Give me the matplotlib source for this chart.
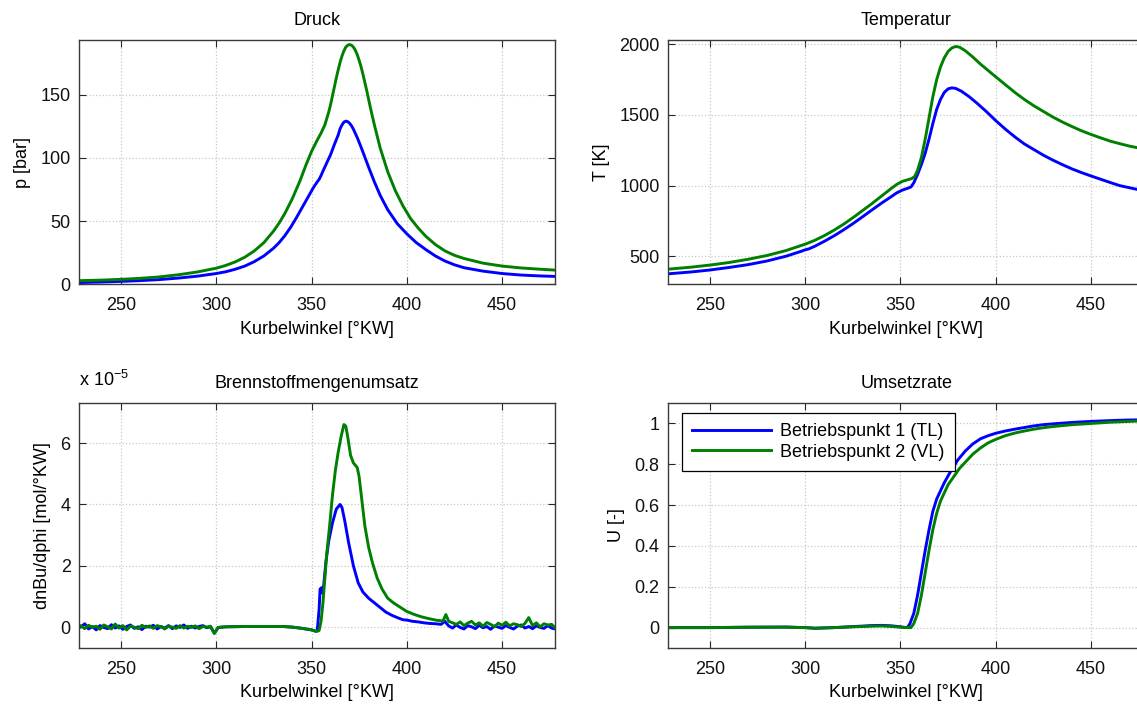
import numpy as np
import matplotlib
matplotlib.use("Agg")
import matplotlib.pyplot as plt
from matplotlib.ticker import FuncFormatter

plt.rcParams['font.family'] = ['Liberation Sans', 'DejaVu Sans']
plt.rcParams['font.size'] = 13

BLAU = '#0000ff'
GRUEN = '#008000'
labels = ['Betriebspunkt 1 (TL)', 'Betriebspunkt 2 (VL)']

# Druck [bar]
phi_p1 = [229, 240, 250, 260, 270, 280, 290, 300, 305, 310, 315, 320, 325, 330, 333, 336, 339, 342,
          345, 348, 351, 353, 354, 355, 356, 358, 360, 362, 364, 365, 366, 367, 368, 369, 370, 371,
          372, 374, 376, 378, 380, 383, 386, 390, 395, 400, 405, 410, 415, 420, 425, 430, 440, 450,
          460, 470, 478]
p1 = [1.5, 1.9, 2.4, 3.0, 3.8, 5.0, 6.5, 8.6, 10, 12, 14.5, 18, 22.5, 28.5, 33, 38.5, 45, 52.5,
      60.5, 68.5, 76.5, 81, 83, 86, 89.5, 96, 102.5, 110.5, 118, 123, 126, 128.2, 129, 128.6, 127.3, 125.3,
      122.6, 116, 108.5, 100.5, 92.5, 81, 70.5, 59, 48, 40, 33, 27.5, 22.5, 18.5, 15.5, 13.2, 10.5, 8.6,
      7.4, 6.7, 6.3]
phi_p2 = [229, 240, 250, 260, 270, 280, 290, 300, 305, 310, 315, 320, 325, 330, 333, 336, 340, 344,
          347, 350, 353, 355, 357, 359, 360, 361, 362, 363, 364, 365, 366, 367, 368, 369, 370, 371,
          372, 373, 374, 375, 376, 377, 378, 379, 380, 381, 383, 386, 390, 394, 398, 402, 406, 410,
          415, 420, 425, 430, 440, 450, 460, 470, 478]
p2 = [3.0, 3.4, 4.0, 4.8, 5.9, 7.6, 9.8, 12.8, 15.0, 17.8, 21.5, 26.5, 33, 42, 48.5, 56, 68, 82,
      94, 105, 114, 119.5, 126, 136, 142, 149, 156, 163, 169.5, 175.5, 180.5, 184.5, 187.5, 189, 189.5, 189,
      187.5, 185, 181.5, 177, 172, 166, 159.5, 153, 146, 139, 126, 108, 89, 74, 62, 52, 44.5, 38,
      31.5, 26.5, 23, 20.5, 16.8, 14.5, 13, 12, 11.3]

# Temperatur [K]
phi_T1 = [229, 240, 250, 260, 270, 280, 290, 298, 300, 302, 305, 310, 315, 320, 325, 330, 335, 340,
          345, 348, 351, 354, 355.5, 357, 359, 361, 363, 365, 367, 369, 371, 373, 375, 377, 379, 382,
          386, 390, 395, 400, 405, 410, 415, 420, 425, 430, 435, 440, 445, 450, 455, 460, 465, 470, 478]
T1 = [376, 388, 402, 420, 440, 466, 500, 535, 545, 552, 570, 605, 643, 685, 730, 778, 827, 875,
      920, 948, 968, 982, 990, 1020, 1080, 1150, 1230, 1330, 1440, 1540, 1610, 1660, 1685, 1692, 1688, 1668,
      1630, 1585, 1525, 1460, 1400, 1345, 1295, 1255, 1215, 1180, 1148, 1118, 1092, 1068, 1045, 1022, 1000, 985, 962]
phi_T2 = [229, 240, 250, 260, 270, 280, 290, 300, 305, 310, 315, 320, 325, 330, 335, 340, 345, 348,
          351, 354, 356, 357.5, 359, 361, 363, 365, 367, 369, 371, 373, 375, 377, 379, 381, 384, 388,
          392, 396, 400, 405, 410, 415, 420, 425, 430, 435, 440, 445, 450, 455, 460, 465, 470, 478]
T2 = [409, 422, 437, 455, 478, 505, 540, 585, 612, 645, 683, 725, 772, 822, 872, 925, 978, 1008,
      1030, 1042, 1050, 1065, 1110, 1200, 1330, 1480, 1630, 1750, 1840, 1905, 1950, 1975, 1985, 1980, 1955, 1910,
      1860, 1815, 1770, 1715, 1660, 1610, 1565, 1525, 1485, 1450, 1418, 1388, 1362, 1338, 1315, 1297, 1280, 1258]

# Brennstoffmengenumsatz [1e-5 mol/°KW]
phi_b1 = list(range(229, 298, 2)) + [299, 300, 301, 305, 315, 325, 335, 340, 345, 350, 352, 353,
          354, 354.5, 355.5, 356, 357.5, 359, 361, 363, 365, 366, 367.5, 369.5, 372, 374.5, 377, 380,
          383, 386, 389, 392, 395, 398, 400, 403, 406, 409, 412, 415, 418, 420, 421] + list(range(422, 479, 2))
b1 = [0.02, 0.12, -0.05, 0.03, -0.08, 0.06, 0.0, -0.04, 0.09, -0.02, 0.05, -0.06, 0.03, 0.08, -0.03,
      0.02, -0.07, 0.04, 0.01, 0.07, -0.05, 0.03, -0.02, 0.06, -0.04, 0.05, 0.0, 0.08, -0.03, 0.04,
      -0.02, 0.03, 0.06, -0.01, 0.02,
      -0.18, -0.1, 0.0, 0.02, 0.03, 0.03, 0.03, 0.01, -0.03, -0.08, -0.12, -0.12,
      0.6, 1.25, 1.3, 1.1, 2.1, 2.8, 3.4, 3.85, 4.0, 3.9, 3.45, 2.75, 2.0, 1.45, 1.15, 0.95,
      0.8, 0.65, 0.5, 0.4, 0.32, 0.25, 0.24, 0.2, 0.18, 0.15, 0.13, 0.12, 0.1, 0.2, 0.12,
      0.05, -0.02, 0.08, 0.0, -0.05, 0.06, 0.02, -0.04, 0.07, -0.01, 0.03, -0.06, 0.05, 0.01, -0.03,
      0.06, 0.0, -0.05, 0.04, 0.08, -0.02, 0.03, -0.04, 0.05, 0.0, -0.03, 0.06, -0.02, -0.05]
phi_b2 = list(range(229, 298, 2)) + [299, 300, 301, 305, 315, 325, 335, 340, 345, 350, 352, 353,
          354, 355, 356, 357, 358, 359.5, 361, 362.5, 364, 365.5, 367, 368, 369, 370.5, 372, 374, 375,
          376.5, 378, 380, 382, 384.5, 387, 390, 393, 396, 400, 404, 408, 412, 416, 419, 420.5, 422] + list(range(424, 479, 2))
b2 = [0.05, -0.04, 0.07, 0.0, 0.04, -0.06, 0.08, 0.02, -0.05, 0.11, -0.02, 0.06, -0.08, 0.04, 0.01,
      -0.04, 0.07, 0.0, 0.05, -0.03, 0.06, 0.02, -0.05, 0.04, 0.01, -0.03, 0.06, -0.02, 0.04, 0.0,
      0.05, -0.04, 0.03, 0.01, 0.04,
      -0.2, -0.1, 0.0, 0.02, 0.03, 0.03, 0.03, 0.01, -0.03, -0.08, -0.12, -0.12,
      -0.1, 0.2, 0.8, 1.6, 2.4, 3.3, 4.3, 5.1, 5.7, 6.2, 6.6, 6.55, 6.2, 5.6, 5.35, 5.2, 4.9,
      4.1, 3.3, 2.6, 2.1, 1.6, 1.25, 0.95, 0.8, 0.68, 0.52, 0.42, 0.34, 0.28, 0.23, 0.21, 0.42, 0.2,
      0.15, 0.1, 0.18, 0.06, 0.14, 0.2, 0.08, 0.15, 0.04, 0.16, 0.1, 0.02, 0.14, 0.07, 0.17,
      0.05, 0.12, 0.09, 0.03, 0.13, 0.32, 0.06, 0.15, 0.02, 0.12, 0.08, 0.1, -0.02]

# Umsetzrate [-]
phi_u1 = [229, 250, 270, 290, 300, 305, 315, 325, 335, 340, 345, 350, 353, 354, 355, 357, 359, 361,
          363, 365, 367, 369, 371, 373, 376, 380, 384, 388, 392, 396, 400, 405, 410, 415, 420, 425,
          430, 440, 450, 460, 470, 478]
u1 = [0.0, 0.0, 0.002, 0.003, 0.0, -0.003, 0.0, 0.005, 0.01, 0.011, 0.009, 0.004, 0.0, 0.005, 0.02,
      0.07, 0.16, 0.27, 0.38, 0.48, 0.57, 0.63, 0.67, 0.71, 0.76, 0.82, 0.865, 0.9, 0.925, 0.94,
      0.952, 0.963, 0.972, 0.98, 0.988, 0.994, 0.998, 1.005, 1.01, 1.014, 1.017, 1.018]
phi_u2 = [229, 250, 270, 290, 300, 305, 315, 325, 335, 340, 345, 350, 354, 355.5, 357, 359, 361, 363,
          365, 367, 369, 371, 373, 375, 378, 381, 384, 388, 392, 396, 400, 405, 410, 415, 420, 425,
          430, 440, 450, 460, 470, 478]
u2 = [0.0, 0.0, 0.002, 0.002, 0.0, -0.003, 0.0, 0.004, 0.007, 0.008, 0.006, 0.002, 0.0, 0.0, 0.02,
      0.07, 0.16, 0.27, 0.38, 0.48, 0.56, 0.62, 0.66, 0.7, 0.74, 0.78, 0.81, 0.85, 0.88, 0.905,
      0.922, 0.94, 0.953, 0.963, 0.972, 0.979, 0.985, 0.994, 1.0, 1.006, 1.01, 1.013]

xticks = [250, 300, 350, 400, 450]


def stil(ax, titel, ylabel, ylim, yticks):
    ax.set_xlim(228, 478)
    ax.set_ylim(*ylim)
    ax.set_xticks(xticks)
    ax.set_yticks(yticks)
    ax.set_title(titel, pad=11, fontsize=13)
    ax.set_xlabel('Kurbelwinkel [°KW]', labelpad=5)
    ax.set_ylabel(ylabel, labelpad=7)
    ax.grid(True, color='#c8c8c8', linestyle=':', linewidth=0.9)
    ax.tick_params(direction='in', top=True, right=True, length=5, width=0.8,
                   colors='#262626', labelcolor='#111111')
    ax.tick_params(axis='x', pad=9)
    ax.tick_params(axis='y', pad=6)
    for s in ax.spines.values():
        s.set_color('#3a3a3a')
        s.set_linewidth(1.0)


fig = plt.figure(figsize=(11.37, 7.04), dpi=100)
lw = 2.1

ax1 = fig.add_axes([0.0695, 0.596, 0.419, 0.347])
ax1.plot(phi_p1, p1, color=BLAU, lw=lw)
ax1.plot(phi_p2, p2, color=GRUEN, lw=lw)
stil(ax1, 'Druck', 'p [bar]', (0, 193), [0, 50, 100, 150])

ax2 = fig.add_axes([0.5875, 0.596, 0.419, 0.347])
ax2.plot(phi_T1, T1, color=BLAU, lw=lw)
ax2.plot(phi_T2, T2, color=GRUEN, lw=lw)
stil(ax2, 'Temperatur', 'T [K]', (300, 2030), [500, 1000, 1500, 2000])

ax3 = fig.add_axes([0.0695, 0.0795, 0.419, 0.348])
ax3.plot(phi_b1, np.array(b1) * 1e-5, color=BLAU, lw=lw)
ax3.plot(phi_b2, np.array(b2) * 1e-5, color=GRUEN, lw=lw)
stil(ax3, 'Brennstoffmengenumsatz', 'dnBu/dphi [mol/°KW]', (-0.67e-5, 7.3e-5),
     [0, 2e-5, 4e-5, 6e-5])
ax3.yaxis.set_major_formatter(FuncFormatter(lambda v, p: f'{v / 1e-5:g}'))
ax3.text(0.0, 1.055, r'x 10$^{\mathregular{-5}}$', transform=ax3.transAxes,
         ha='left', va='bottom', fontsize=13)

ax4 = fig.add_axes([0.5875, 0.0795, 0.419, 0.348])
ax4.plot(phi_u1, u1, color=BLAU, lw=lw, label=labels[0])
ax4.plot(phi_u2, u2, color=GRUEN, lw=lw, label=labels[1])
stil(ax4, 'Umsetzrate', 'U [-]', (-0.1, 1.1), [0, 0.2, 0.4, 0.6, 0.8, 1])
ax4.yaxis.set_major_formatter(FuncFormatter(lambda v, p: f'{v:g}'))
leg = ax4.legend(loc='upper left', bbox_to_anchor=(0.029, 0.959), fancybox=False,
                 edgecolor='black', framealpha=1, handlelength=4.4, borderpad=0.55,
                 labelspacing=0.2, handletextpad=0.5, fontsize=13, borderaxespad=0)
leg.get_frame().set_linewidth(0.9)

fig.savefig('out.png', dpi=100)
